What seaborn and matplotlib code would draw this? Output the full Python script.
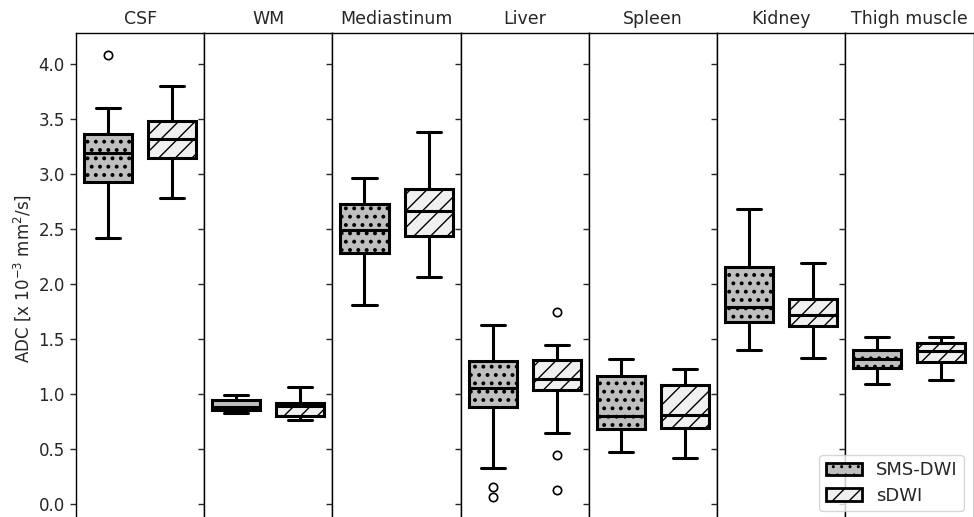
import numpy as np
import pandas as pd
import matplotlib
matplotlib.use("Agg")
import matplotlib.pyplot as plt
from matplotlib.patches import Patch
import seaborn as sns

organs = ["CSF", "WM", "Mediastinum", "Liver", "Spleen", "Kidney", "Thigh muscle"]
methods = ["SMS-DWI", "sDWI"]

# box statistics, per organ (order as organs)
sms_whislo = [2.41, 0.82, 1.805, 0.32, 0.468, 1.395, 1.084]
sms_q1     = [2.92, 0.847, 2.275, 0.874, 0.677, 1.653, 1.235]
sms_med    = [3.19, 0.877, 2.486, 1.05, 0.80, 1.789, 1.316]
sms_q3     = [3.356, 0.944, 2.72, 1.293, 1.156, 2.153, 1.395]
sms_whishi = [3.60, 0.99, 2.956, 1.625, 1.314, 2.674, 1.516]
sms_out    = [[4.08], [], [], [0.153, 0.056], [], [], []]

sdwi_whislo = [2.777, 0.756, 2.059, 0.644, 0.41, 1.323, 1.125]
sdwi_q1     = [3.138, 0.793, 2.432, 1.029, 0.689, 1.611, 1.284]
sdwi_med    = [3.316, 0.884, 2.656, 1.132, 0.807, 1.714, 1.389]
sdwi_q3     = [3.477, 0.916, 2.856, 1.307, 1.075, 1.862, 1.462]
sdwi_whishi = [3.80, 1.056, 3.377, 1.444, 1.22, 2.189, 1.511]
sdwi_out    = [[], [], [], [1.745, 0.441, 0.12], [], [], []]


def build_sample(lo, q1, med, q3, hi, outs, M=4):
    """Sample of size 4M+1 whose linear percentiles hit q1/med/q3 exactly."""
    low = sorted([o for o in outs if o < q1])
    high = sorted([o for o in outs if o > q3])
    vals = list(low) + [lo]
    vals += [q1] * (M + 1 - len(vals))          # up to index M
    vals += [med] * M                            # indices M+1 .. 2M
    vals += [q3] * M                             # indices 2M+1 .. 3M
    n_hi = 4 * M + 1 - len(vals) - len(high)
    vals += [hi] * n_hi + high
    return vals


rows = []
for i, org in enumerate(organs):
    for v in build_sample(sms_whislo[i], sms_q1[i], sms_med[i], sms_q3[i], sms_whishi[i], sms_out[i]):
        rows.append((org, "SMS-DWI", v))
    for v in build_sample(sdwi_whislo[i], sdwi_q1[i], sdwi_med[i], sdwi_q3[i], sdwi_whishi[i], sdwi_out[i]):
        rows.append((org, "sDWI", v))
df = pd.DataFrame(rows, columns=["organ", "method", "ADC"])

sns.set_style("ticks")
plt.rcParams["font.family"] = ["DejaVu Sans"]
plt.rcParams["hatch.linewidth"] = 1.0

fill = {"SMS-DWI": "#bfbfbf", "sDWI": "#f0f0f0"}
hatch = {"SMS-DWI": "..", "sDWI": "//"}

fig, axes = plt.subplots(1, 7, sharey=True, figsize=(9.74, 5.17), dpi=100)

W, H = 974.0, 517.0
left_px, right_px, top_px = 76.0, 973.5, 32.7
ymin, ymax = -0.2, 4.28
px_per_unit = 110.0
bottom_px = 503.5 + (0 - ymin) * px_per_unit
pw = (right_px - left_px) / 7

for i, (ax, org) in enumerate(zip(axes, organs)):
    sub = df[df["organ"] == org]
    sns.boxplot(data=sub, x="method", y="ADC", hue="method", order=methods,
                hue_order=methods, palette=fill, width=0.75, linewidth=2.2,
                linecolor="black", fliersize=6, whis=1.5, legend=False,
                flierprops=dict(marker="o", markerfacecolor="white",
                                markeredgecolor="black", markeredgewidth=1.2),
                ax=ax)
    for patch, m in zip(ax.patches, methods):
        patch.set_hatch(hatch[m])
        patch.set_edgecolor("black")
        if m == "SMS-DWI" and hasattr(patch, "set_hatch_linewidth"):
            patch.set_hatch_linewidth(1.6)
    ax.set_position([(left_px + i * pw) / W, 1 - bottom_px / H, pw / W, (bottom_px - top_px) / H])
    ax.set_xlim(-0.5, 1.5)
    ax.set_ylim(ymin, ymax)
    ax.set_xticks([])
    ax.set_xlabel("")
    ax.set_ylabel("")
    ax.set_title(org, fontsize=12.5, pad=6)
    for s in ax.spines.values():
        s.set_linewidth(1.0)
        s.set_color("black")
    ax.tick_params(axis="y", direction="out", length=4.5, width=1, labelsize=12)

axes[0].set_yticks([0.0, 0.5, 1.0, 1.5, 2.0, 2.5, 3.0, 3.5, 4.0])
axes[0].set_ylabel("ADC [x 10$^{-3}$ mm$^2$/s]", fontsize=12)

handles = [Patch(facecolor=fill[m], edgecolor="black", hatch=hatch[m], linewidth=2, label=m)
           for m in methods]
axes[-1].legend(handles=handles, loc="lower right", fontsize=13,
                bbox_to_anchor=(964 / W, 1 - 511 / H), bbox_transform=fig.transFigure,
                borderaxespad=0, frameon=True, handlelength=2.0, labelspacing=0.4,
                borderpad=0.35)

fig.savefig("out.png", dpi=100)
